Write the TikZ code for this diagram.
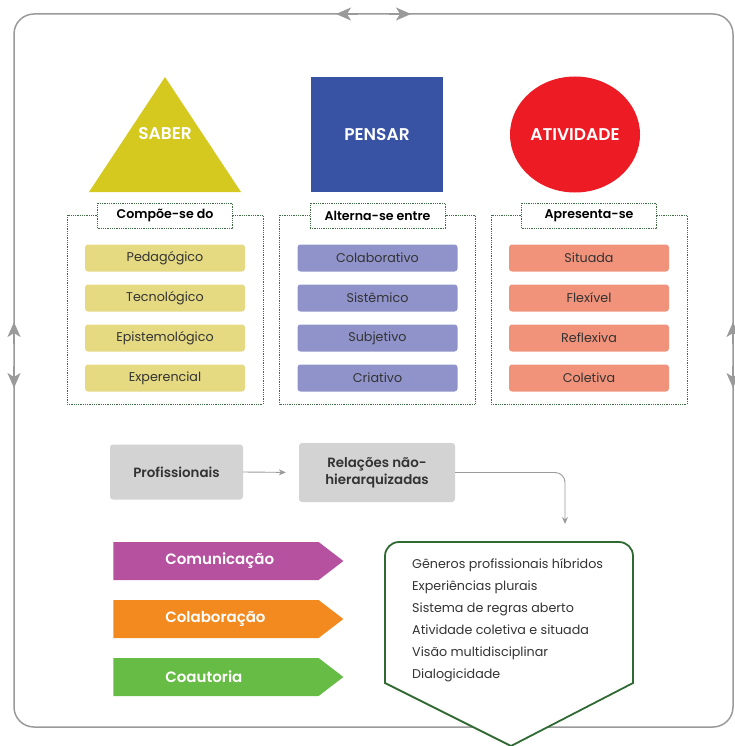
\documentclass[tikz,border=0pt]{standalone}
\usepackage{fontspec}
\setmainfont{Poppins}[BoldFont={Poppins SemiBold}]
\usetikzlibrary{arrows.meta,positioning,calc,shapes.geometric,shapes.symbols}
\definecolor{framegray}{HTML}{9A9A9A}
\definecolor{saberyellow}{HTML}{D5C920}
\definecolor{pensarblue}{HTML}{3953A4}
\definecolor{ativred}{HTML}{ED1C24}
\definecolor{itemyellow}{HTML}{E5D982}
\definecolor{itemblue}{HTML}{8F93C9}
\definecolor{itemsalmon}{HTML}{F1927A}
\definecolor{groupgreen}{HTML}{3F6B45}
\definecolor{boxgray}{HTML}{D3D3D3}
\definecolor{chevmagenta}{HTML}{B5519E}
\definecolor{chevorange}{HTML}{F28A1F}
\definecolor{chevgreen}{HTML}{67BC45}
\definecolor{pentgreen}{HTML}{2F6A33}
\definecolor{inktext}{HTML}{333333}
\tikzset{
  groupbox/.style={draw=groupgreen,line width=0.9pt,dash pattern=on 0.9pt off 0.9pt},
  grouplabel/.style={groupbox,fill=white,minimum width=135,minimum height=25,inner sep=0pt,text=black,font=\bfseries\fontsize{12.6}{14}\selectfont},
  itembox/.style={rounded corners=3pt,minimum width=160,minimum height=27,inner sep=0pt,text=inktext,font=\fontsize{12.7}{14}\selectfont},
  graybox/.style={fill=boxgray,rounded corners=3pt,align=center,inner sep=0pt,text=inktext,font=\bfseries\fontsize{13.4}{17}\selectfont},
  linkarrow/.style={draw=framegray,line width=0.9pt,-{Stealth[length=7pt,width=6pt]}},
  chevron/.style={signal,signal to=east,signal pointer angle=75,minimum width=230,minimum height=38,inner sep=0pt},
  framearrow/.style={framegray,line width=1.5pt,-{Stealth[length=15pt,width=13pt,inset=4pt]}},
  shapetext/.style={text=white,font=\bfseries\fontsize{17}{19}\selectfont}
}
\begin{document}
\begin{tikzpicture}[x=1pt,y=-1pt]
\useasboundingbox (0,0) rectangle (734,746);
% outer cycle
\draw[framegray,line width=1.5pt,rounded corners=20pt] (14,14) rectangle (733,727);
\draw[framearrow] (358,14)--(336,14);\draw[framearrow] (389,14)--(411,14);
\foreach \fx in {14,733}{
\draw[framearrow] (\fx,344)--(\fx,322);\draw[framearrow] (\fx,366)--(\fx,388);}
% saber, pensar, atividade
\fill[saberyellow] (89,192)--(165,77)--(241,192)--cycle;
\node[shapetext] (saber) at (165,134) {SABER};
\node[fill=pensarblue,minimum width=132,minimum height=115,inner sep=0pt,shapetext] (pensar) at (377,134.5) {PENSAR};
\node[ellipse,fill=ativred,minimum width=130,minimum height=116,inner sep=0pt,shapetext] (ativ) at (575,134.5) {ATIVIDADE};
\foreach \cx/\lbl/\col/\ia/\ib/\ic/\id [count=\k] in {165/Compõe-se do/itemyellow/Pedagógico/Tecnológico/Epistemológico/Experencial,377.5/Alterna-se entre/itemblue/Colaborativo/Sistêmico/Subjetivo/Criativo,589/Apresenta-se/itemsalmon/Situada/Flexível/Reflexiva/Coletiva}{
\draw[groupbox] (\cx-98,215) rectangle (\cx+98,404);
\node[grouplabel] (group\k) at (\cx,215.5) {\lbl};
\foreach \txt [count=\j] in {\ia,\ib,\ic,\id}
  \node[itembox,fill=\col] (item\k-\j) at (\cx,218+40*\j) {\txt};}
% relations
\node[graybox,minimum width=133,minimum height=55] (prof) at (176.5,472) {Profissionais};
\node[graybox,minimum width=156,minimum height=59] (rel) at (377,472.5) {Relações não-\\hierarquizadas};
\coordinate (genin) at (565,524);
\draw[linkarrow,shorten >=13pt] (prof.east)--(rel.west);
\draw[linkarrow,rounded corners=10pt] (rel.east)-|(genin);
\foreach \y/\lbl/\col [count=\k] in {561/Comunicação/chevmagenta,619/Colaboração/chevorange,677/Coautoria/chevgreen}{
\node[chevron,fill=\col] (chev\k) at (216,\y) {};
\node[anchor=west,inner sep=0pt,text=white,font=\bfseries\fontsize{15}{17}\selectfont] at ([xshift=52]chev\k.west) {\lbl};}
\filldraw[fill=white,draw=pentgreen,line width=1.8pt,line join=miter] (511,746)--(385,683) [rounded corners=14pt]--(385,542)--(633,542) [sharp corners]--(633,683)--cycle;
\node[anchor=north west,align=left,inner sep=0pt,text=inktext,font=\fontsize{12.7}{22}\selectfont] (traits) at (412,558) {Gêneros profissionais híbridos\\Experiências plurais\\Sistema de regras aberto\\Atividade coletiva e situada\\Visão multidisciplinar\\Dialogicidade};
\end{tikzpicture}
\end{document}
